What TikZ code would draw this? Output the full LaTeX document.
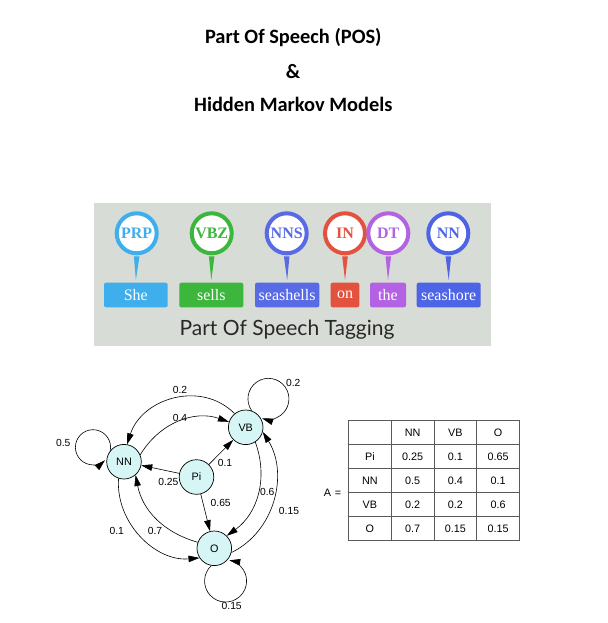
\documentclass[tikz,border=0pt]{standalone}
\usepackage{fontspec}
\setmainfont{Liberation Serif}
\newfontfamily\titlefont{Carlito}
\newfontfamily\gfont{Liberation Sans}
\newfontfamily\tagfont{Lato}
\usetikzlibrary{arrows.meta}
\definecolor{bannerbg}{RGB}{216,220,214}
\definecolor{cPRP}{RGB}{62,174,236}
\definecolor{cVBZ}{RGB}{60,182,60}
\definecolor{cNNS}{RGB}{88,106,228}
\definecolor{cIN}{RGB}{226,82,62}
\definecolor{cDT}{RGB}{178,98,226}
\definecolor{cNN}{RGB}{78,100,230}
\definecolor{nodefill}{RGB}{214,246,246}
\definecolor{tagtext}{RGB}{40,40,40}
\definecolor{gridcol}{RGB}{90,90,90}
\begin{document}
\begin{tikzpicture}[x=1pt,y=1pt,
  titletxt/.style={font=\titlefont\bfseries\fontsize{20.4}{24}\selectfont, inner sep=0pt, anchor=base},
  pinc/.style={circle, draw=#1, line width=4pt, fill=white, minimum size=40pt, inner sep=0pt,
     text=#1, font=\bfseries\fontsize{16}{18}\selectfont},
  wbox/.style={fill=#1, rounded corners=2pt, minimum height=24.6pt, inner sep=0pt,
     text=white, font=\fontsize{16}{18}\selectfont},
  st/.style={circle, draw=black, line width=0.7pt, fill=nodefill, minimum size=34.6pt, inner sep=0pt,
     font=\gfont\fontsize{10.8}{12}\selectfont},
  ed/.style={draw=black, line width=0.6pt, -{Triangle[length=11pt,width=6.5pt]}},
  lbl/.style={inner sep=0pt, font=\gfont\fontsize{10.3}{12}\selectfont},
  cell/.style={draw=gridcol, line width=0.8pt, minimum width=42.75pt, minimum height=24pt, inner sep=0pt,
     font=\gfont\fontsize{10.8}{12}\selectfont}
]
\useasboundingbox (0,0) rectangle (607,-623);
\fill[white] (0,0) rectangle (607,-623);

% Titles
\node[titletxt] (t1) at (293.3,-43.3) {Part Of Speech (POS)};
\node[titletxt] (t2) at (293,-78.3) {\&};
\node[titletxt] (t3) at (293.3,-111.7) {Hidden Markov Models};

% Banner
\node[fill=bannerbg, minimum width=397pt, minimum height=143pt, anchor=north west, inner sep=0pt] (banner) at (94,-203) {};

% word boxes
\node[wbox=cPRP, minimum width=63.7pt] (wShe) at (135.85,-295) {She};
\node[wbox=cVBZ, minimum width=64pt] (wSells) at (211.3,-295) {sells};
\node[wbox=cNNS, minimum width=64.3pt] (wSea) at (287.15,-295) {seashells};
\node[wbox=cIN, minimum width=28.6pt] (wOn) at (345,-295) {on};
\node[wbox=cDT, minimum width=36pt] (wThe) at (388,-295) {the};
\node[wbox=cNN, minimum width=64pt] (wShore) at (448.7,-295) {seashore};

% pins
\node[pinc=cPRP] (pPRP) at (136.7,-233.3) {PRP};
\node[pinc=cVBZ] (pVBZ) at (211.7,-233.3) {VBZ};
\node[pinc=cNNS] (pNNS) at (286.7,-233.3) {NNS};
\node[pinc=cIN] (pIN) at (345,-233.3) {IN};
\node[pinc=cDT] (pDT) at (388.3,-233.3) {DT};
\node[pinc=cNN] (pNN) at (448.3,-233.3) {NN};

% stems
\fill[cPRP] ([xshift=-2.8pt,yshift=-1pt]pPRP.south) -- ([xshift=2.8pt,yshift=-1pt]pPRP.south) -- ([yshift=2.5pt]wShe.north) -- cycle;
\fill[cVBZ] ([xshift=-2.8pt,yshift=-1pt]pVBZ.south) -- ([xshift=2.8pt,yshift=-1pt]pVBZ.south) -- ([yshift=2.5pt]wSells.north) -- cycle;
\fill[cNNS] ([xshift=-2.8pt,yshift=-1pt]pNNS.south) -- ([xshift=2.8pt,yshift=-1pt]pNNS.south) -- ([yshift=2.5pt]wSea.north) -- cycle;
\fill[cIN] ([xshift=-2.8pt,yshift=-1pt]pIN.south) -- ([xshift=2.8pt,yshift=-1pt]pIN.south) -- ([yshift=2.5pt]wOn.north) -- cycle;
\fill[cDT] ([xshift=-2.8pt,yshift=-1pt]pDT.south) -- ([xshift=2.8pt,yshift=-1pt]pDT.south) -- ([yshift=2.5pt]wThe.north) -- cycle;
\fill[cNN] ([xshift=-2.8pt,yshift=-1pt]pNN.south) -- ([xshift=2.8pt,yshift=-1pt]pNN.south) -- ([yshift=2.5pt]wShore.north) -- cycle;

\node[inner sep=0pt, anchor=base, text=tagtext, font=\tagfont\fontsize{21}{24}\selectfont] (tagging) at (287,-335) {Part Of Speech Tagging};

% Graph
\node[st] (NN) at (124,-461.7) {NN};
\node[st] (VB) at (245.7,-427.3) {VB};
\node[st] (Pi) at (196.5,-477) {Pi};
\node[st] (O) at (214.3,-548.3) {O};

\draw[ed] (VB.129) to[out=135,in=72,looseness=1.1] (NN.80);
\draw[ed] (NN.23) to[out=59,in=161] (VB.162);
\draw[ed] (VB.-57) to[out=-70,in=36] (O.45);
\draw[ed] (O.-14) to[out=26,in=-58] (VB.-15);
\draw[ed] (NN.-108) to[out=-94,in=185] (O.213);
\draw[ed] (O.160) to[out=164,in=-79] (NN.-49);
\draw[ed] (Pi) -- (VB);
\draw[ed] (Pi) -- (NN);
\draw[ed] (Pi) -- (O);
% self loops
\draw[ed] (NN.141) arc[start angle=-10.8, end angle=313, radius=17.6pt];
\draw[ed] (VB.70) arc[start angle=215.4, end angle=-108, radius=20.5pt];
\draw[ed] (O.-100) arc[start angle=133.1, end angle=440, radius=21pt];

\node[lbl] (l1) at (180,-390) {0.2};
\node[lbl] (l2) at (180,-417.7) {0.4};
\node[lbl] (l3) at (63.3,-443.3) {0.5};
\node[lbl] (l4) at (293.3,-382.7) {0.2};
\node[lbl] (l5) at (225,-462.7) {0.1};
\node[lbl] (l6) at (168.3,-482.3) {0.25};
\node[lbl] (l7) at (220.7,-502.7) {0.65};
\node[lbl] (l8) at (267.3,-491.7) {0.6};
\node[lbl] (l9) at (289,-511) {0.15};
\node[lbl] (l10) at (116.7,-530.7) {0.1};
\node[lbl] (l11) at (155,-530.7) {0.7};
\node[lbl] (l12) at (231.7,-606) {0.15};

% Table
\node[lbl, font=\gfont\fontsize{10.8}{12}\selectfont] (Aeq) at (332.5,-492.5) {A\,\,=};
\node[cell] (c00) at (369.9,-432.5) {};
\node[cell] (c01) at (412.6,-432.5) {NN};
\node[cell] (c02) at (455.4,-432.5) {VB};
\node[cell] (c03) at (498.1,-432.5) {O};
\node[cell] (c10) at (369.9,-456.5) {Pi};
\node[cell] (c11) at (412.6,-456.5) {0.25};
\node[cell] (c12) at (455.4,-456.5) {0.1};
\node[cell] (c13) at (498.1,-456.5) {0.65};
\node[cell] (c20) at (369.9,-480.5) {NN};
\node[cell] (c21) at (412.6,-480.5) {0.5};
\node[cell] (c22) at (455.4,-480.5) {0.4};
\node[cell] (c23) at (498.1,-480.5) {0.1};
\node[cell] (c30) at (369.9,-504.5) {VB};
\node[cell] (c31) at (412.6,-504.5) {0.2};
\node[cell] (c32) at (455.4,-504.5) {0.2};
\node[cell] (c33) at (498.1,-504.5) {0.6};
\node[cell] (c40) at (369.9,-528.5) {O};
\node[cell] (c41) at (412.6,-528.5) {0.7};
\node[cell] (c42) at (455.4,-528.5) {0.15};
\node[cell] (c43) at (498.1,-528.5) {0.15};
\end{tikzpicture}
\end{document}
